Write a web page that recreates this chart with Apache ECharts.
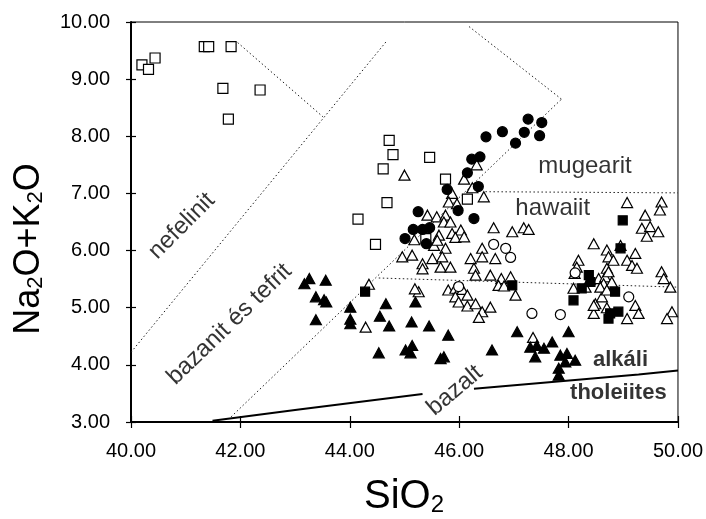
<!DOCTYPE html>
<html>
<head>
<meta charset="utf-8">
<script src="https://cdn.jsdelivr.net/npm/echarts@6/dist/echarts.min.js"></script>
<style>
html,body{margin:0;padding:0;background:#fff;}
#chart{width:706px;height:519px;}
</style>
</head>
<body>
<div id="chart"></div>
<script>
// ---- axis ticks ----
const xTicks = [40, 42, 44, 46, 48, 50];
const yTicks = [3, 4, 5, 6, 7, 8, 9, 10];

// ---- data series (SiO2, Na2O+K2O) ----
const openSquares = [
  [40.20,9.25],[40.32,9.17],[40.44,9.37],[41.34,9.57],[41.42,9.57],[41.83,9.57],
  [41.68,8.84],[42.36,8.81],[41.78,8.30],[44.72,7.93],[44.79,7.68],[45.46,7.63],
  [44.61,7.43],[44.68,6.84],[44.15,6.55],[44.47,6.11],[45.75,7.25],[46.15,6.90],[45.39,6.21]
];
const openTriangles = [
  [45.00,7.32],[46.32,7.50],[46.09,7.25],[46.24,7.10],[46.45,6.94],[45.87,7.00],
  [45.81,6.85],[45.96,6.82],[45.42,6.62],[45.59,6.59],[45.75,6.62],[45.72,6.50],
  [45.84,6.50],[45.18,6.19],[45.54,6.09],[45.63,6.27],[45.60,6.18],[45.75,6.04],
  [45.87,6.30],[46.03,6.36],[45.93,6.23],[46.09,6.24],[46.63,6.40],[46.97,6.33],
  [47.18,6.40],[47.27,6.37],[44.96,5.89],[45.14,5.92],[45.33,5.77],[45.51,5.86],
  [45.69,5.89],[45.33,5.68],[45.66,5.71],[45.84,5.71],[46.21,5.86],[46.42,6.04],
  [46.42,5.89],[46.66,5.86],[46.27,5.69],[46.30,5.57],[46.57,5.57],[46.77,5.51],
  [46.94,5.54],[45.26,5.28],[45.19,5.33],[45.80,5.31],[45.93,5.34],[46.06,5.32],
  [46.15,5.22],[45.93,5.19],[45.99,5.10],[46.15,5.03],[46.30,5.07],[46.42,4.93],
  [46.36,4.83],[46.57,5.01],[46.72,5.39],[46.82,5.38],[47.03,5.22],[47.35,4.48],
  [48.09,5.34],[48.31,5.36],[48.49,5.07],[48.61,5.19],[48.46,4.90],[48.46,5.04],
  [48.70,5.00],[49.07,4.81],[48.82,5.36],[49.22,5.04],[49.07,6.84],[49.70,6.85],
  [49.67,6.71],[49.40,6.62],[49.34,6.39],[49.49,6.42],[49.64,6.33],[49.43,6.25],
  [48.46,6.12],[48.95,6.09],[48.70,6.01],[48.73,5.89],[48.82,5.83],[49.22,5.95],
  [49.07,5.83],[49.16,5.74],[49.25,5.69],[48.18,5.83],[48.15,5.71],[48.70,5.69],
  [48.55,5.51],[48.67,5.54],[48.73,5.63],[48.64,5.42],[48.79,5.45],[48.58,5.36],
  [48.70,5.31],[49.28,4.90],[49.70,5.63],[49.74,5.51],[49.86,5.36],[49.89,4.93],
  [49.80,4.81],[48.11,5.60],[44.35,5.41],[44.29,4.66]
];
const openCircles = [
  [46.63,6.11],[46.85,6.04],[46.94,5.88],[45.99,5.37],[47.33,4.90],[47.85,4.88],
  [48.12,5.61],[49.10,5.19]
];
const filledTriangles = [
  [43.17,5.42],[43.26,5.51],[43.56,5.48],[43.38,5.19],[43.53,5.14],[43.57,5.10],
  [43.38,4.79],[44.01,5.01],[44.01,4.80],[44.01,4.72],[44.66,5.07],[44.55,4.85],
  [44.72,4.68],[45.20,5.10],[45.13,4.75],[45.45,4.68],[44.53,4.21],[45.02,4.26],
  [45.14,4.34],[45.11,4.21],[45.66,4.11],[45.72,4.14],[45.80,4.52],[46.60,4.26],
  [47.06,4.58],[47.30,4.31],[47.39,4.14],[47.55,4.29],[47.70,4.40],[47.42,4.34],
  [48.00,4.58],[47.85,4.17],[47.97,4.20],[48.12,4.08],[47.94,4.05],[47.82,3.94],
  [47.82,3.82]
];
const filledSquares = [
  [44.28,5.28],[46.97,5.39],[48.99,6.53],[48.95,6.04],[48.37,5.57],[48.40,5.45],
  [48.24,5.34],[48.09,5.13],[48.85,5.28],[48.76,4.90],[48.91,4.93],[48.73,4.81]
];
const filledCircles = [
  [46.49,7.99],[46.79,8.08],[47.26,8.30],[47.51,8.24],[47.19,8.07],[47.47,8.01],
  [47.03,7.88],[46.23,7.60],[46.38,7.64],[46.15,7.36],[45.78,7.07],[46.35,7.12],
  [45.98,6.70],[46.27,6.56],[45.25,6.68],[45.16,6.37],[45.33,6.37],[45.46,6.40],
  [45.01,6.21],[45.40,6.12]
];

// ---- field boundaries ----
const lineNefelinit = [[40.00,4.22],[44.66,9.65]];
const lineNefelinitTop = [[41.95,9.64],[43.51,8.34]];
const lineBazanit = [[41.83,3.09],[47.87,8.65]];
const lineUpperRight = [[46.18,9.92],[47.87,8.65]];
const lineMugearit = [[46.48,7.03],[50.00,7.01]];
const lineHawaiit = [[44.53,5.52],[50.00,5.36]];
const lineAlkaliA = [[41.49,3.02],[43.07,3.22],[45.33,3.49]];
const lineAlkaliB = [[46.27,3.58],[49.28,3.83],[50.00,3.90]];

// ---- field names ----
const fieldNames = ['nefelinit', 'bazanit és tefrit', 'mugearit', 'hawaiit', 'bazalt', 'alkáli', 'tholeiites'];
const fieldAt = [[40.93,6.43],[41.80,4.71],[48.30,7.47],[47.71,6.74],[45.92,3.55],[48.95,4.08],[48.91,3.50]];

const FONT = '"Liberation Sans", Arial, sans-serif';
const labelRot = [45, 44, 0, 0, 40, 0, 0];
const labelBold = [false, false, false, false, false, true, true];
const labelSize = [24, 24, 24, 24, 24, 22, 22];

const chart = echarts.init(document.getElementById('chart'), null, {renderer: 'canvas'});

function dotted(data) {
  return {type: 'line', data: data, xAxisIndex: 0, yAxisIndex: 0, showSymbol: false, symbol: 'none',
    silent: true, z: 1, lineStyle: {color: '#222', width: 1, type: [1.5, 2.5]}};
}
function solid(data) {
  return {type: 'line', data: data, xAxisIndex: 0, yAxisIndex: 0, showSymbol: false, symbol: 'none',
    silent: true, z: 1, lineStyle: {color: '#000', width: 2}};
}
function pts(data, symbol, size, filled, z) {
  return {type: 'scatter', data: data, symbol: symbol, symbolSize: size, z: z,
    itemStyle: {color: filled ? '#000' : '#fff', borderColor: '#000', borderWidth: 1.2, opacity: 1}};
}

const baseAxis = {type: 'value', splitLine: {show: false}};
const option = {
  animation: false,
  backgroundColor: '#fff',
  grid: {left: 131, right: 27, top: 22, bottom: 97, show: true, borderColor: '#000', borderWidth: 1, backgroundColor: 'transparent'},
  xAxis: [
    Object.assign({}, baseAxis, {min: xTicks[0], max: xTicks[xTicks.length - 1], interval: 2, position: 'bottom',
      axisLine: {show: true, onZero: false, lineStyle: {color: '#000', width: 2}},
      axisTick: {show: true, length: 6, lineStyle: {color: '#000', width: 1.2}},
      axisLabel: {formatter: v => v.toFixed(2), color: '#000', fontSize: 20, fontFamily: FONT, margin: 19}}),
    Object.assign({}, baseAxis, {min: xTicks[0], max: xTicks[xTicks.length - 1], interval: 2, position: 'bottom',
      axisLine: {show: false}, axisTick: {show: true, inside: true, length: 6, lineStyle: {color: '#000', width: 1.2}},
      axisLabel: {show: false}})
  ],
  yAxis: [
    Object.assign({}, baseAxis, {min: yTicks[0], max: yTicks[yTicks.length - 1], interval: 1, position: 'left',
      axisLine: {show: true, onZero: false, lineStyle: {color: '#000', width: 2}},
      axisTick: {show: true, length: 5, lineStyle: {color: '#000', width: 1.2}},
      axisLabel: {formatter: v => v.toFixed(2), color: '#000', fontSize: 20, fontFamily: FONT, margin: 21}}),
    Object.assign({}, baseAxis, {min: yTicks[0], max: yTicks[yTicks.length - 1], interval: 1, position: 'left',
      axisLine: {show: false}, axisTick: {show: true, inside: true, length: 5, lineStyle: {color: '#000', width: 1.2}},
      axisLabel: {show: false}})
  ],
  graphic: [
    {type: 'text', x: 29, y: 249, rotation: Math.PI / 2,
      style: {text: 'Na{s|2}O+K{s|2}O', fill: '#000', font: '36px ' + FONT, align: 'center', verticalAlign: 'middle',
        rich: {s: {fontSize: 22, fontFamily: FONT, fill: '#000', verticalAlign: 'bottom', lineHeight: 22}}}},
    {type: 'text', x: 404, y: 497,
      style: {text: 'SiO{s|2}', fill: '#000', font: '40px ' + FONT, align: 'center', verticalAlign: 'middle',
        rich: {s: {fontSize: 24, fontFamily: FONT, fill: '#000', verticalAlign: 'bottom', lineHeight: 24}}}}
  ],
  series: [
    dotted(lineNefelinit), dotted(lineNefelinitTop), dotted(lineBazanit), dotted(lineUpperRight),
    dotted(lineMugearit), dotted(lineHawaiit), solid(lineAlkaliA), solid(lineAlkaliB),
    pts(openSquares, 'rect', 10, false, 3),
    pts(openTriangles, 'triangle', [11, 10], false, 4),
    pts(openCircles, 'circle', 10, false, 4),
    pts(filledTriangles, 'triangle', [11, 10], true, 5),
    pts(filledSquares, 'rect', 9, true, 5),
    pts(filledCircles, 'circle', 10, true, 6),
    {type: 'scatter', symbolSize: 0, silent: true, z: 7,
      data: fieldNames.map((n, i) => ({value: fieldAt[i], name: n,
        label: {show: true, position: 'inside', formatter: n, rotate: labelRot[i], color: '#000',
          fontSize: labelSize[i], fontFamily: FONT, fontWeight: labelBold[i] ? 'bold' : 'normal'}}))}
  ]
};
chart.setOption(option);
</script>
</body>
</html>
